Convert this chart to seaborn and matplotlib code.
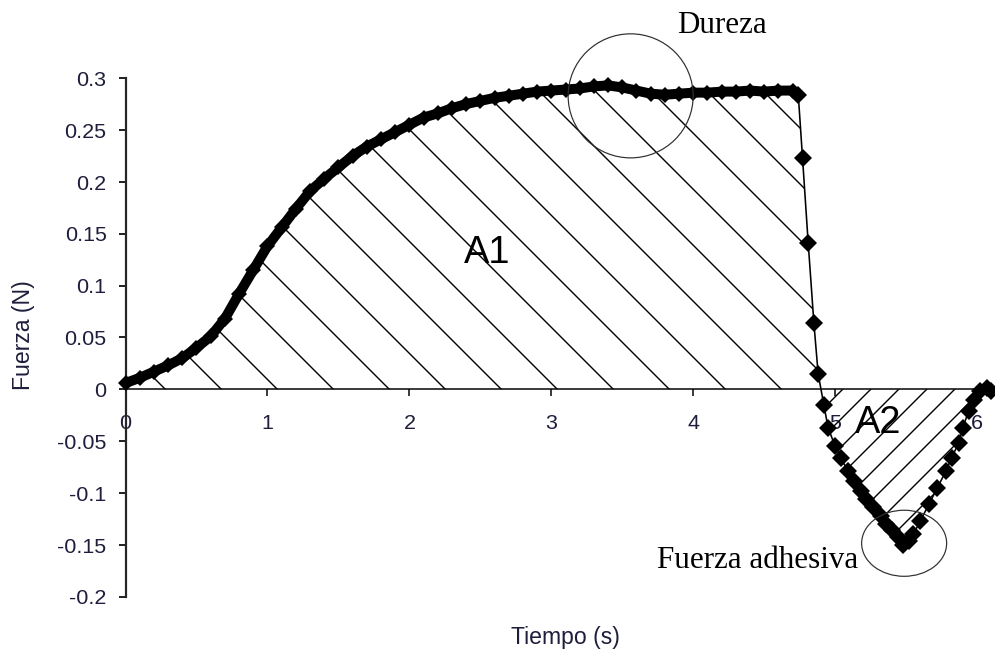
import numpy as np
import matplotlib
matplotlib.use("Agg")
import matplotlib.pyplot as plt
from matplotlib.patches import Ellipse
import seaborn as sns

# Compression phase: probe presses the sample and holds (s, N)
t_compresion = [0.00, 0.10, 0.20, 0.30, 0.40, 0.50, 0.60, 0.70, 0.80, 0.90,
                1.00, 1.10, 1.20, 1.30, 1.40, 1.50, 1.60, 1.70, 1.80, 1.90,
                2.00, 2.10, 2.20, 2.30, 2.40, 2.50, 2.60, 2.70, 2.80, 2.90,
                3.00, 3.10, 3.20, 3.30, 3.40, 3.50, 3.60, 3.70, 3.80, 3.90,
                4.00, 4.10, 4.20, 4.30, 4.40, 4.50, 4.60, 4.70, 4.74]
f_compresion = [0.006, 0.011, 0.017, 0.023, 0.030, 0.040, 0.051, 0.068, 0.092, 0.115,
                0.138, 0.156, 0.174, 0.191, 0.203, 0.214, 0.225, 0.234, 0.241, 0.248,
                0.255, 0.262, 0.266, 0.271, 0.275, 0.278, 0.281, 0.283, 0.285, 0.287,
                0.288, 0.289, 0.290, 0.292, 0.293, 0.291, 0.288, 0.285, 0.284, 0.285,
                0.286, 0.286, 0.287, 0.287, 0.288, 0.287, 0.288, 0.288, 0.284]

# Withdrawal phase: probe lifts off, sample sticks (s, N)
t_retirada = [4.74, 4.77, 4.81, 4.85, 4.88, 4.92, 4.95, 5.00, 5.04, 5.09,
              5.13, 5.18, 5.22, 5.27, 5.32, 5.36, 5.40, 5.44, 5.48, 5.52,
              5.55, 5.60, 5.66, 5.72, 5.78, 5.82, 5.87, 5.90, 5.94, 5.98,
              6.02, 6.07, 6.10]
f_retirada = [0.284, 0.223, 0.141, 0.064, 0.015, -0.015, -0.037, -0.055, -0.066, -0.079,
              -0.088, -0.098, -0.106, -0.114, -0.122, -0.130, -0.136, -0.142, -0.150, -0.146,
              -0.140, -0.127, -0.111, -0.095, -0.079, -0.066, -0.052, -0.037, -0.021, -0.010,
              -0.002, 0.001, -0.002]

x_ticks = [0, 1, 2, 3, 4, 5, 6]
x_tick_labels = ["0", "1", "2", "3", "4", "5", "6"]
y_ticks = [-0.2, -0.15, -0.1, -0.05, 0, 0.05, 0.1, 0.15, 0.2, 0.25, 0.3]
y_tick_labels = ["-0.2", "-0.15", "-0.1", "-0.05", "0", "0.05", "0.1", "0.15",
                 "0.2", "0.25", "0.3"]

DPI = 168


def px(v):
    """Convert a size in pixels to points at the output resolution."""
    return v * 72.0 / DPI


TXT = "#1e1e3c"

sns.set_theme(style="ticks")
plt.rcParams.update({
    "font.family": ["Liberation Sans", "DejaVu Sans"],
    "hatch.linewidth": px(1.4),
    "hatch.color": "black",
    "axes.facecolor": "white",
    "figure.facecolor": "white",
})

fig = plt.figure(figsize=(995.2 / DPI, 655.2 / DPI), dpi=DPI)
ax = fig.add_axes([125.5 / 995, 58.3 / 655, 869.5 / 995, 518.4 / 655])

# Whole curve for the shaded areas
t_all = np.array(t_compresion + t_retirada[1:])
f_all = np.array(f_compresion + f_retirada[1:])

# A1: positive work (compression), A2: negative work (adhesion)
ax.fill_between(t_all, f_all, 0, where=f_all >= 0, interpolate=True,
                facecolor="none", edgecolor="black", hatch="\\", linewidth=0, zorder=1)
ax.fill_between(t_all, f_all, 0, where=f_all <= 0, interpolate=True,
                facecolor="none", edgecolor="black", hatch="//", linewidth=0, zorder=1)

# Measured force series (dense diamond markers)
sns.lineplot(x=t_compresion, y=f_compresion, ax=ax, color="black",
             linewidth=px(10), marker="D", markersize=px(11), markeredgewidth=0,
             sort=False, estimator=None, zorder=3, clip_on=False,
             solid_joinstyle="round", solid_capstyle="round")
sns.lineplot(x=t_retirada, y=f_retirada, ax=ax, color="black",
             linewidth=px(1.6), marker="D", markersize=px(12.5), markeredgewidth=0,
             sort=False, estimator=None, zorder=3, clip_on=False)

ax.set_xlim(0, 869.5 / 141.9)
ax.set_ylim(-0.2, 0.3)

ax.set_xticks(x_ticks, labels=x_tick_labels)
ax.set_yticks(y_ticks, labels=y_tick_labels)

for side in ("top", "right"):
    ax.spines[side].set_visible(False)
ax.spines["bottom"].set_position(("data", 0))
ax.spines["bottom"].set_color("black")
ax.spines["bottom"].set_linewidth(px(1.5))
ax.spines["left"].set_color("#262626")
ax.spines["left"].set_linewidth(px(2.2))
ax.spines["bottom"].set_zorder(2)

ax.tick_params(axis="x", bottom=True, direction="out", length=px(7), width=px(1.5),
               color="black", pad=px(17.5), labelsize=px(21.5), labelcolor=TXT)
ax.tick_params(axis="y", left=True, direction="out", length=px(7), width=px(2),
               color="#262626", pad=px(12), labelsize=px(21.5), labelcolor=TXT)

ax.set_xlabel("Tiempo (s)", fontsize=px(23), color=TXT)
ax.xaxis.set_label_coords(0.5055, -0.0565)
ax.set_ylabel("Fuerza (N)", fontsize=px(23), color=TXT)
ax.yaxis.set_label_coords(-0.1037, 0.505)

# Area labels
ax.text(2.548, 0.1221, "A1", ha="center", va="baseline", fontsize=px(38),
        color="black", zorder=5)
ax.text(5.303, -0.0421, "A2", ha="center", va="baseline", fontsize=px(38),
        color="black", zorder=5)

# Annotations of the characteristic points
serif = ["Liberation Serif", "DejaVu Serif"]
ax.add_patch(Ellipse((3.559, 0.2829), 0.881, 0.1196, fill=False, clip_on=False,
                     edgecolor="#303030", linewidth=px(1.2), zorder=4))
ax.text(4.204, 0.3437, "Dureza", family=serif, ha="center", va="baseline",
        fontsize=px(31), color="black")
ax.add_patch(Ellipse((5.486, -0.1485), 0.599, 0.0637, fill=False, clip_on=False,
                     edgecolor="#303030", linewidth=px(1.2), zorder=4))
ax.text(3.746, -0.1721, "Fuerza adhesiva", family=serif, ha="left", va="baseline",
        fontsize=px(31), color="black")

fig.savefig("out.png", dpi=DPI)
